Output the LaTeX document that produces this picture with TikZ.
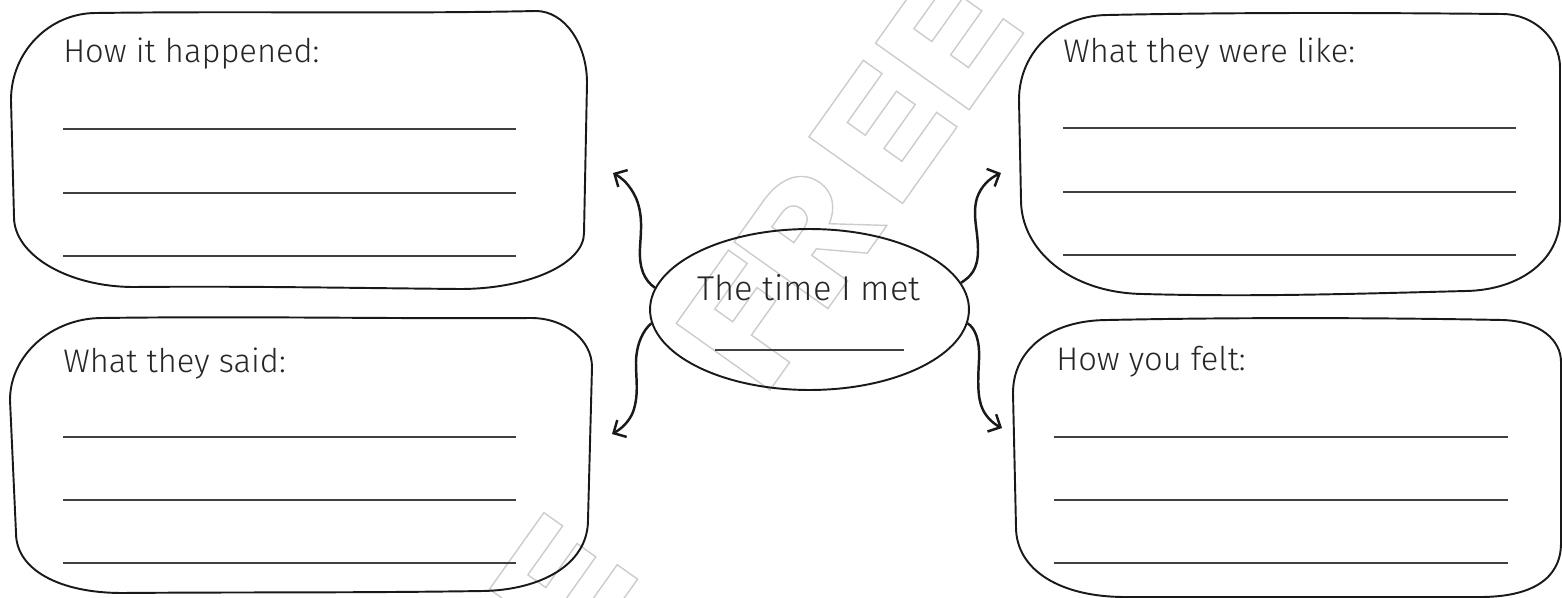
\documentclass[tikz,border=0pt]{standalone}
\usepackage{fontspec}
\setmainfont{Fira Sans Light}
\usetikzlibrary{arrows.meta,shapes.geometric}

% outline letters of the background stamp, in a letter frame (u right, v up), cap height 115
\newcommand\stampF{(0,0)--(0,115)--(90,115)--(90,92)--(34,92)--(34,70)--(76,70)--(76,47)--(34,47)--(34,0)--cycle}
\newcommand\stampE{(0,0)--(0,115)--(94,115)--(94,92)--(34,92)--(34,70)--(88,70)--(88,47)--(34,47)--(34,25)--(94,25)--(94,0)--cycle}
\newcommand\stampR{(0,0)--(0,115)--(50,115) .. controls (84,115) and (98,98) .. (98,80) .. controls (98,62) and (86,52) .. (70,48) -- (102,0) -- (68,0) -- (42,44) -- (34,44) -- (34,0) -- cycle
  (34,66) -- (34,93) -- (50,93) .. controls (62,93) and (66,87) .. (66,80) .. controls (66,72) and (62,66) .. (50,66) -- cycle}

\begin{document}
\begin{tikzpicture}[x=0.02cm, y=-0.02cm,
  frame/.style={line width=1.1pt, draw=black!90, line join=round},
  rule/.style={line width=0.85pt, draw=black!75},
  label/.style={anchor=base west, inner sep=0pt, font=\fontsize{18.6}{22}\selectfont, text=black!85},
  link/.style={line width=1.4pt, draw=black!90, -{Straight Barb[length=5.5pt,width=11pt]}},
  wm/.style={draw=black!20, line width=0.8pt, line join=miter}]

\useasboundingbox (0,0) rectangle (1562,598);

% background stamp, two copies
\begin{scope}
  \clip (0,0) rectangle (1562,598);
  \foreach \ox/\oy in {770/390, 384/936} {
    \begin{scope}[shift={(\ox,\oy)}, x={(0.01158cm,0.0163cm)}, y={(-0.0163cm,0.01158cm)}]
      \draw[wm] \stampF;
      \begin{scope}[shift={(100,0)}] \draw[wm] \stampR; \end{scope}
      \begin{scope}[shift={(229,0)}] \draw[wm] \stampE; \end{scope}
      \begin{scope}[shift={(344,0)}] \draw[wm] \stampE; \end{scope}
    \end{scope}
  }
\end{scope}

% four hand-drawn frames
\draw[frame] (96,13) .. controls (250,11) and (400,14) .. (536,11)
  .. controls (564,11) and (587,43) .. (587,83) -- (584,233)
  .. controls (584,264) and (528,289) .. (460,289)
  .. controls (350,288) and (250,286) .. (134,287)
  .. controls (68,287) and (14,255) .. (14,217) -- (11,100)
  .. controls (11,52) and (49,13) .. (96,13) -- cycle;

\draw[frame] (102,318) .. controls (250,316) and (400,319) .. (531,318)
  .. controls (565,318) and (592,340) .. (592,367) -- (588,520)
  .. controls (588,565) and (540,590) .. (483,591)
  .. controls (350,593) and (250,592) .. (122,593)
  .. controls (60,593) and (16,570) .. (16,533) -- (10,400)
  .. controls (10,355) and (52,318) .. (102,318) -- cycle;

\draw[frame] (1108,15) .. controls (1250,12) and (1400,13) .. (1502,14)
  .. controls (1535,14) and (1560,40) .. (1560,67) -- (1560,217)
  .. controls (1560,260) and (1520,290) .. (1466,291)
  .. controls (1350,294) and (1250,297) .. (1143,294)
  .. controls (1070,293) and (1021,250) .. (1021,200) -- (1019,100)
  .. controls (1019,50) and (1060,15) .. (1108,15) -- cycle;

\draw[frame] (1108,320) .. controls (1250,317) and (1400,318) .. (1502,320)
  .. controls (1540,321) and (1561,340) .. (1561,362) -- (1561,543)
  .. controls (1561,580) and (1530,597) .. (1480,597) -- (1125,597)
  .. controls (1060,597) and (1016,570) .. (1016,527) -- (1013,393)
  .. controls (1013,350) and (1050,320) .. (1108,320) -- cycle;

% headings
\node[label] (happened) at (63,63)   {How it happened:};
\node[label] (said)     at (63,372)  {What they said:};
\node[label] (like)     at (1063,63) {What they were like:};
\node[label] (felt)     at (1056,370){How you felt:};

% writing lines
\foreach \y in {129,193,256} \draw[rule] (63,\y) -- (516,\y);
\foreach \y in {437,500,563} \draw[rule] (63,\y) -- (516,\y);
\foreach \y in {128,192,255} \draw[rule] (1063,\y) -- (1516,\y);
\foreach \y in {437,500,563} \draw[rule] (1054,\y) -- (1508,\y);

% central ellipse
\node[ellipse, frame, minimum width=6.38cm, minimum height=3.22cm, inner sep=0pt] (hub) at (809.5,309.5) {};
\node[anchor=base, inner sep=0pt, font=\fontsize{19.6}{24}\selectfont, text=black!85] (met) at (809,300) {The time I met};
\draw[rule] (715,350) -- (904,350);

% wavy arrows
\coordinate (tipUL) at (613,173);
\coordinate (tipLL) at (612,434);
\coordinate (tipUR) at (1001,173);
\coordinate (tipLR) at (1002,428);

\draw[link] (hub.172) .. controls (644,280) and (639,268) .. (640,248)
  .. controls (641,230) and (643,215) .. (636,198)
  .. controls (630,185) and (622,178) .. (tipUL);
\draw[link] (hub.185) .. controls (643,330) and (636,345) .. (636,363)
  .. controls (636,380) and (639,395) .. (633,412)
  .. controls (629,422) and (621,429) .. (tipLL);
\draw[link] (hub.10) .. controls (970,277) and (978,270) .. (978,250)
  .. controls (978,230) and (972,215) .. (977,198)
  .. controls (981,186) and (990,178) .. (tipUR);
\draw[link] (hub.-5) .. controls (975,328) and (980,340) .. (979,360)
  .. controls (978,380) and (977,398) .. (983,410)
  .. controls (987,418) and (994,424) .. (tipLR);
\end{tikzpicture}
\end{document}
